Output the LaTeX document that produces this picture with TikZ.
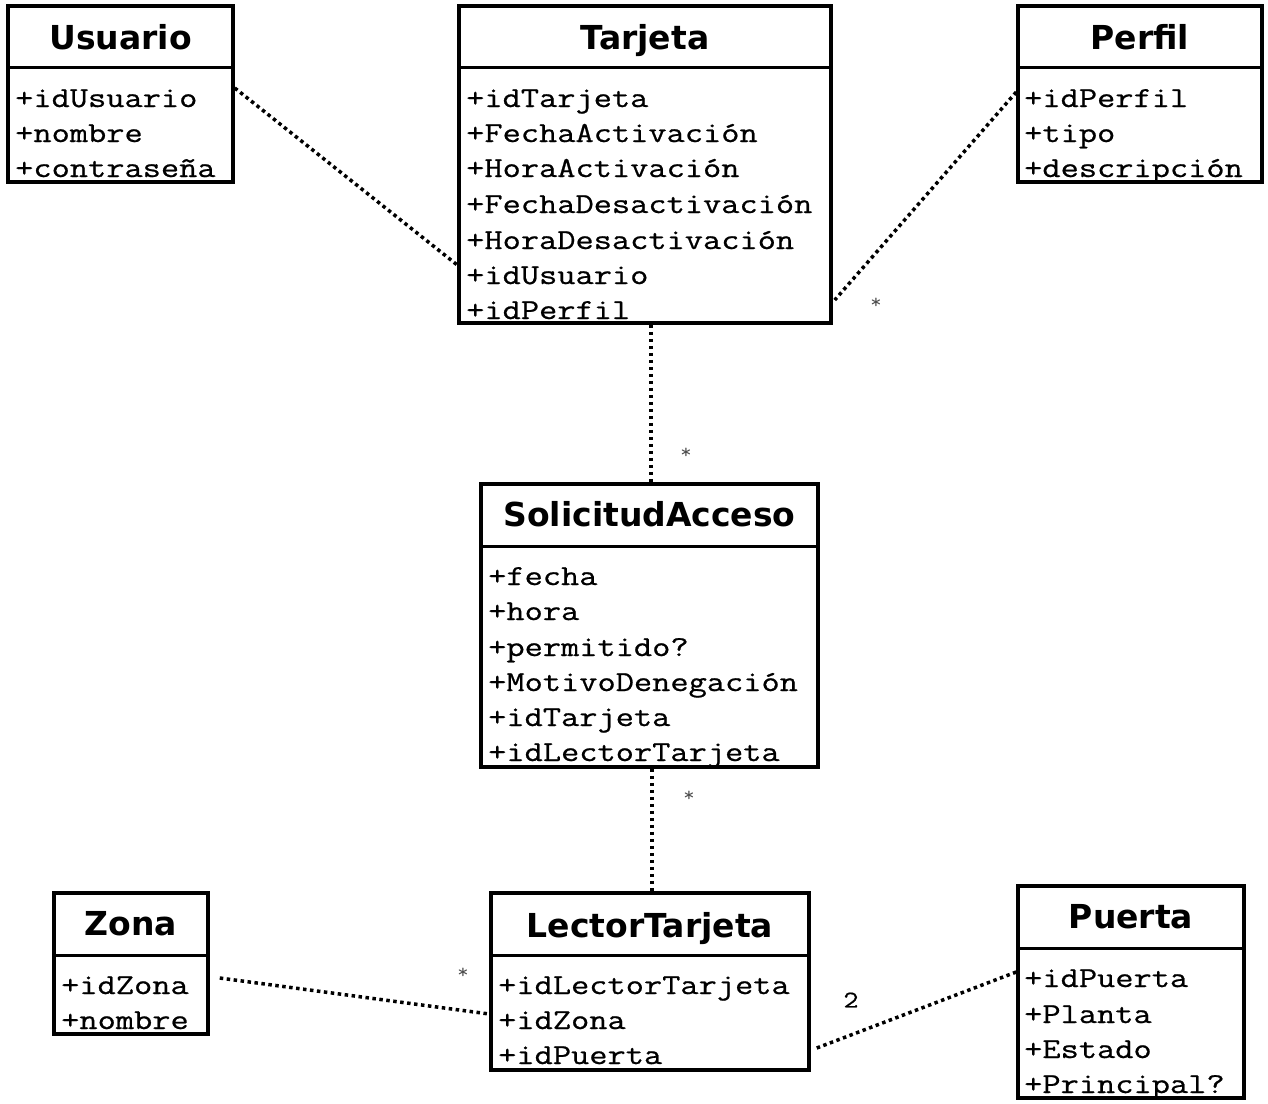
\documentclass[tikz,border=0pt]{standalone}
\usepackage{fontspec}
\setmainfont{DejaVu Sans}
\newfontfamily\attrfont[FakeStretch=1.22,FakeBold=0.7]{Latin Modern Mono}
\newfontfamily\multfont[FakeStretch=1.1]{Latin Modern Mono}
\newfontfamily\titlefont{DejaVu Sans}
\begin{document}
\begin{tikzpicture}[x=1pt,y=-1pt,
  cls/.style={draw=black, line width=3.5pt, inner sep=0pt, fill=white},
  sepline/.style={line width=3pt},
  ttl/.style={inner sep=0pt, anchor=base, font=\titlefont\bfseries\fontsize{33}{38}\selectfont},
  attr/.style={inner sep=0pt, anchor=base west, font=\attrfont\fontsize{29}{35}\selectfont},
  assoc/.style={line width=3.5pt, dash pattern=on 3.5pt off 3.5pt},
  mult/.style={inner sep=0pt, text=black!70, font=\multfont\fontsize{20}{22}\selectfont}
]
\useasboundingbox (0,0) rectangle (1268,1103);

% Usuario
\node[cls, minimum width=225, minimum height=176] (usuario) at (120.5,94) {};
\draw[sepline] (usuario.west |- 0,67) -- (usuario.east |- 0,67);
\node[ttl] (usuarioT) at (120.5,49) {Usuario};
\node[attr] (u1) at (15,107) {+idUsuario};
\node[attr] (u2) at (15,142) {+nombre};
\node[attr] (u3) at (15,177) {+contraseña};

% Tarjeta
\node[cls, minimum width=372, minimum height=317] (tarjeta) at (645,164.5) {};
\draw[sepline] (tarjeta.west |- 0,67) -- (tarjeta.east |- 0,67);
\node[ttl] (tarjetaT) at (645,49) {Tarjeta};
\node[attr] (t1) at (466,107) {+idTarjeta};
\node[attr] (t2) at (466,142) {+FechaActivación};
\node[attr] (t3) at (466,177) {+HoraActivación};
\node[attr] (t4) at (466,213) {+FechaDesactivación};
\node[attr] (t5) at (466,249) {+HoraDesactivación};
\node[attr] (t6) at (466,284) {+idUsuario};
\node[attr] (t7) at (466,319) {+idPerfil};

% Perfil
\node[cls, minimum width=244, minimum height=176] (perfil) at (1140,94) {};
\draw[sepline] (perfil.west |- 0,67) -- (perfil.east |- 0,67);
\node[ttl] (perfilT) at (1140,49) {Perfil};
\node[attr] (p1) at (1024,107) {+idPerfil};
\node[attr] (p2) at (1024,142) {+tipo};
\node[attr] (p3) at (1024,177) {+descripción};

% SolicitudAcceso
\node[cls, minimum width=337, minimum height=283] (solicitud) at (649.5,625.5) {};
\draw[sepline] (solicitud.west |- 0,546) -- (solicitud.east |- 0,546);
\node[ttl] (solicitudT) at (649.5,526) {SolicitudAcceso};
\node[attr] (s1) at (488,585) {+fecha};
\node[attr] (s2) at (488,620) {+hora};
\node[attr] (s3) at (488,656) {+permitido?};
\node[attr] (s4) at (488,691) {+MotivoDenegación};
\node[attr] (s5) at (488,726) {+idTarjeta};
\node[attr] (s6) at (488,761) {+idLectorTarjeta};

% Zona
\node[cls, minimum width=154, minimum height=141] (zona) at (131,963.5) {};
\draw[sepline] (zona.west |- 0,955) -- (zona.east |- 0,955);
\node[ttl] (zonaT) at (131,935) {Zona};
\node[attr] (z1) at (61,994) {+idZona};
\node[attr] (z2) at (61,1029) {+nombre};

% LectorTarjeta
\node[cls, minimum width=318, minimum height=177] (lector) at (650,981.5) {};
\draw[sepline] (lector.west |- 0,955) -- (lector.east |- 0,955);
\node[ttl] (lectorT) at (650,937) {LectorTarjeta};
\node[attr] (l1) at (498,994) {+idLectorTarjeta};
\node[attr] (l2) at (498,1029) {+idZona};
\node[attr] (l3) at (498,1064) {+idPuerta};

% Puerta
\node[cls, minimum width=226, minimum height=212] (puerta) at (1131,992) {};
\draw[sepline] (puerta.west |- 0,948) -- (puerta.east |- 0,948);
\node[ttl] (puertaT) at (1131,928) {Puerta};
\node[attr] (d1) at (1024,987) {+idPuerta};
\node[attr] (d2) at (1024,1023) {+Planta};
\node[attr] (d3) at (1024,1058) {+Estado};
\node[attr] (d4) at (1024,1093) {+Principal?};

% Associations
\draw[assoc] ([yshift=6pt]usuario.east) -- ([yshift=-100.5pt]tarjeta.west);
\draw[assoc] ([yshift=2pt]perfil.west) -- ([xshift=2pt,yshift=-135.5pt]tarjeta.east);
\draw[assoc] ([xshift=6pt]tarjeta.south) -- ([xshift=1.5pt]solicitud.north);
\draw[assoc] ([xshift=2.5pt]solicitud.south) -- ([xshift=2pt]lector.north);
\draw[assoc] ([xshift=10pt,yshift=-14.5pt]zona.east) -- ([yshift=-32.5pt]lector.west);
\draw[assoc] ([xshift=6pt,yshift=-66.5pt]lector.east) -- ([yshift=20pt]puerta.west);

% Multiplicities
\node[mult] (m1) at (876,303) {*};
\node[mult] (m2) at (686,453) {*};
\node[mult] (m3) at (689,796) {*};
\node[mult] (m4) at (463,973) {*};
\node[mult, text=black, font=\attrfont\fontsize{24}{26}\selectfont] (m5) at (851,1000) {2};
\end{tikzpicture}
\end{document}
